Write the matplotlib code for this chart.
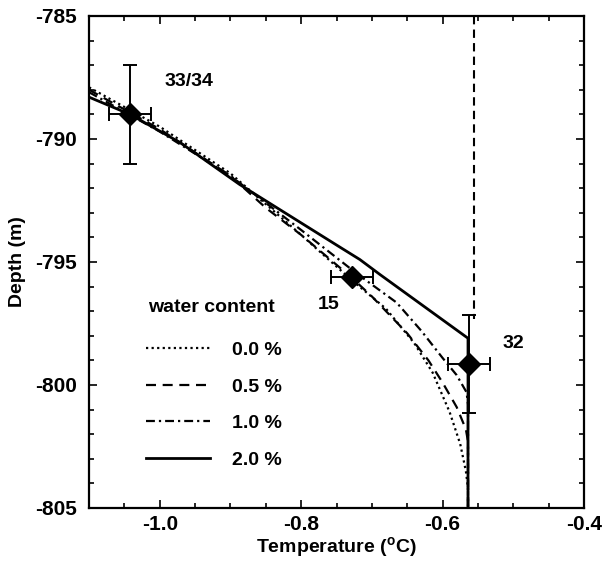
import matplotlib
matplotlib.use('Agg')
import matplotlib.pyplot as plt
from matplotlib.ticker import MultipleLocator, FormatStrFormatter

plt.rcParams['font.family'] = ['Liberation Sans', 'DejaVu Sans']
plt.rcParams['font.weight'] = 'bold'
plt.rcParams['mathtext.default'] = 'regular'
plt.rcParams['axes.unicode_minus'] = False

# ---------------- data ----------------
# model curves (temperature degC, depth m) for different water contents
t_00 = [-1.10, -1.00, -0.90, -0.80, -0.73, -0.68, -0.64, -0.614, -0.59, -0.575, -0.567, -0.564, -0.564]
d_00 = [-787.9, -789.5, -791.4, -793.9, -795.7, -796.9, -798.3, -799.5, -801.1, -802.4, -803.5, -804.2, -805.0]

t_05 = [-1.10, -1.00, -0.90, -0.85, -0.80, -0.73, -0.70, -0.65, -0.62, -0.60, -0.58, -0.567, -0.564, -0.564]
d_05 = [-788.0, -789.6, -791.5, -792.8, -793.9, -795.6, -796.4, -797.9, -799.0, -799.9, -800.9, -801.8, -802.3, -805.0]

t_10 = [-1.10, -1.00, -0.90, -0.80, -0.72, -0.665, -0.63, -0.60, -0.58, -0.566, -0.564, -0.564]
d_10 = [-788.1, -789.7, -791.5, -793.7, -795.5, -796.65, -797.8, -798.9, -799.6, -800.3, -800.8, -805.0]

t_20 = [-1.10, -1.042, -0.971, -0.887, -0.745, -0.717, -0.689, -0.564, -0.564]
d_20 = [-788.3, -789.0, -790.15, -791.85, -794.4, -794.9, -795.5, -798.1, -805.0]

# pressure melting line
t_melt = [-0.555, -0.555]
d_melt = [-785.0, -797.3]

# observations
obs_t = [-1.042, -0.728, -0.563]
obs_d = [-789.0, -795.6, -799.15]
obs_terr = [0.03, 0.03, 0.03]
obs_derr = [2.0, 0.0, 2.0]
obs_labels = ['33/34', '15', '32']

legend_labels = ['0.0 %', '0.5 %', '1.0 %', '2.0 %']
legend_title = 'water content'

x_ticks = [-1.0, -0.8, -0.6, -0.4]
y_ticks = [-805, -800, -795, -790, -785]

# ---------------- figure ----------------
fig = plt.figure(figsize=(6.02, 5.61), dpi=100)
ax = fig.add_axes([0.148, 0.0945, 0.822, 0.877])

lw = 1.6
ls_dot = (0, (1.0, 1.5))
ls_dash = (0, (4.5, 3.0))
ls_dashdot = (0, (4.0, 1.8, 1.0, 1.8))

h0, = ax.plot(t_00, d_00, color='black', lw=lw, linestyle=ls_dot)
h1, = ax.plot(t_05, d_05, color='black', lw=lw, linestyle=ls_dash)
h2, = ax.plot(t_10, d_10, color='black', lw=lw, linestyle=ls_dashdot)
h3, = ax.plot(t_20, d_20, color='black', lw=2.0, linestyle='-')

ax.plot(t_melt, d_melt, color='black', lw=1.5, linestyle=(0, (4, 2.5)))

offsets = [(25, 24), (-24.5, -20), (24, 15)]
for t, d, te, de, lab, off in zip(obs_t, obs_d, obs_terr, obs_derr, obs_labels, offsets):
    ax.errorbar([t], [d], xerr=[te], yerr=[de] if de > 0 else None,
                fmt='D', color='black', ms=11, elinewidth=1.4, capsize=5,
                capthick=1.4, zorder=5)
    ax.annotate(lab, (t, d), xytext=off, textcoords='offset points',
                ha='left', va='center', fontsize=14, fontweight='bold')

ax.set_xlim(-1.1, -0.4)
ax.set_ylim(-805, -785)
ax.set_xticks(x_ticks)
ax.set_yticks(y_ticks)
ax.xaxis.set_minor_locator(MultipleLocator(0.05))
ax.yaxis.set_minor_locator(MultipleLocator(1))
ax.xaxis.set_major_formatter(FormatStrFormatter('%.1f'))
ax.yaxis.set_major_formatter(FormatStrFormatter('%d'))
ax.tick_params(which='both', direction='in', top=True, right=True, width=1.2)
ax.tick_params(which='major', length=6, labelsize=15)
ax.tick_params(axis='x', which='major', pad=5)
ax.tick_params(axis='y', which='major', pad=9)
ax.tick_params(which='minor', length=3.5)
for sp in ax.spines.values():
    sp.set_linewidth(1.6)

ax.set_xlabel('Temperature ($^{o}$C)', fontsize=14, fontweight='bold', labelpad=1)
ax.set_ylabel('Depth (m)', fontsize=14, fontweight='bold', labelpad=6)

ax.text(0.119, 0.4065, legend_title, transform=ax.transAxes, fontsize=14,
        fontweight='bold', ha='left', va='center')
leg = ax.legend([h0, h1, h2, h3], legend_labels,
                loc='upper left', bbox_to_anchor=(0.115, 0.338), frameon=False,
                fontsize=14, handlelength=3.3,
                handletextpad=1.1, labelspacing=0.97, borderpad=0,
                borderaxespad=0)

fig.savefig('out.png', dpi=100, facecolor='white')
